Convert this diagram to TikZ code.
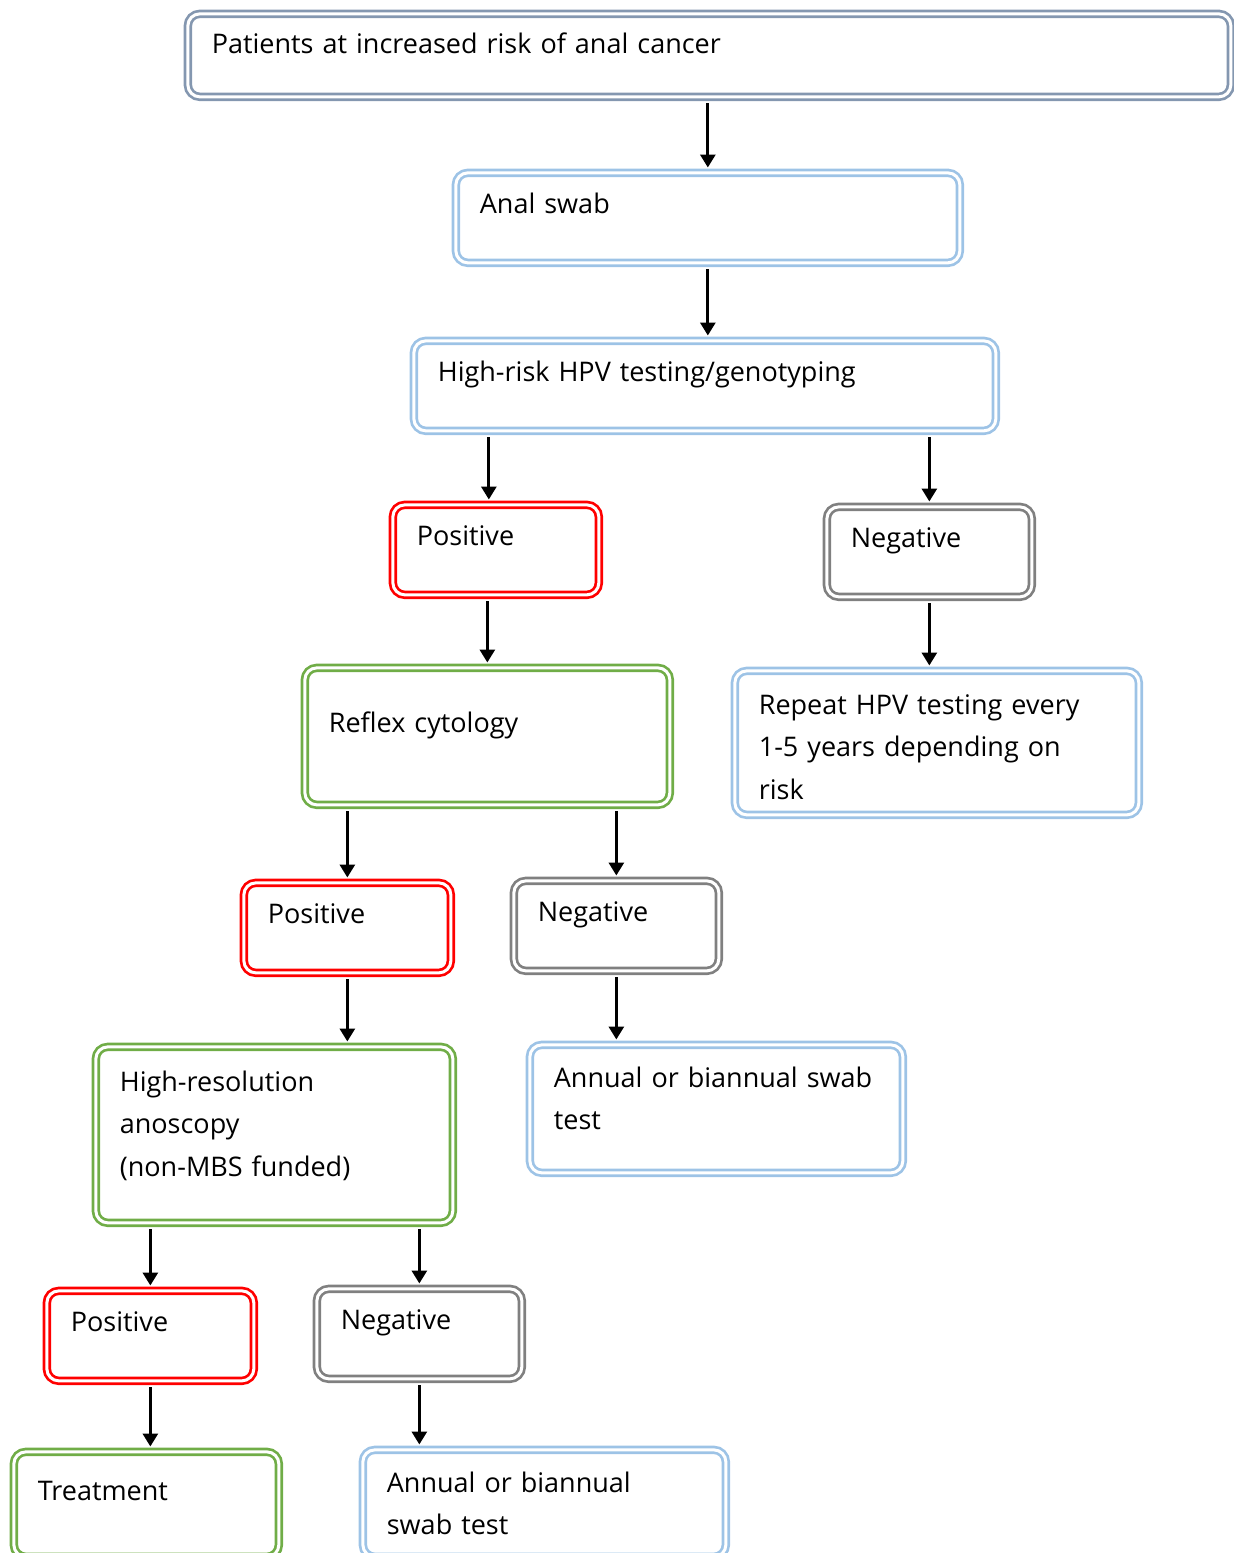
\documentclass[tikz,border=0pt]{standalone}
\usepackage{fontspec}
\setmainfont{Open Sans}
\usepackage{xcolor}
\usepackage{tikz}
\usetikzlibrary{arrows.meta}

\definecolor{topblue}{RGB}{132,151,176}
\definecolor{boxblue}{RGB}{157,195,230}
\definecolor{boxgreen}{RGB}{112,173,71}
\definecolor{boxgray}{RGB}{128,128,128}

\begin{document}
\begin{tikzpicture}[x=1pt, y=-1pt, >={Triangle[length=13pt, width=15pt]},
    card/.style={draw=#1, double, double distance=3pt, line width=2.7pt,
        rounded corners=12pt, anchor=north west, align=left,
        inner xsep=24pt, inner ysep=0pt, text height=40.5pt, text depth=49.5pt,
        font=\fontsize{27}{42.5}\selectfont},
    link/.style={->, line width=3pt, shorten <=5pt, shorten >=4pt}]
    \useasboundingbox (0,0) rectangle (1234,1553);

    % 1. Các hộp
    \node[card=topblue, text width=995pt, text height=39.5pt, text depth=43.5pt] (patients) at (186.5,12.5) {Patients at increased risk of anal cancer};
    \node[card=boxblue, text width=456pt] (swab) at (454.5,171.5) {Anal swab};
    \node[card=boxblue, text width=534pt] (hpv) at (412.5,339.5) {High-risk HPV testing/genotyping};
    \node[card=red, text width=158pt] (pos1) at (391.5,503.5) {Positive};
    \node[card=boxgray, text width=157pt] (neg1) at (825.5,505.5) {Negative};
    \node[card=boxgreen, text width=317pt, text height=64.5pt, text depth=72.5pt] (reflex) at (303.5,666.5) {Reflex cytology};
    \node[card=boxblue, text width=356pt, text height=43.5pt, text depth=100.5pt] (retest) at (733.5,669.5) {Repeat HPV testing every\\1-5 years depending on\\risk};
    \node[card=red, text width=159pt] (pos2) at (242.5,881.5) {Positive};
    \node[card=boxgray, text width=157pt] (neg2) at (512.5,879.5) {Negative};
    \node[card=boxgreen, text width=309pt, text height=44.5pt, text depth=131.5pt] (hra) at (94.5,1045.5) {High-resolution\\anoscopy\\(non-MBS funded)};
    \node[card=boxblue, text width=325pt, text height=42.5pt, text depth=85.5pt] (annual1) at (528.5,1043.5) {Annual or biannual~swab\\test};
    \node[card=red, text width=159pt] (pos3) at (45.5,1289.5) {Positive};
    \node[card=boxgray, text width=157pt] (neg3) at (315.5,1287.5) {Negative};
    \node[card=boxgreen, text width=217pt, text height=48.5pt, text depth=56.5pt] (treat) at (12.5,1450.5) {Treatment};
    \node[card=boxblue, text width=315pt, text height=42.5pt, text depth=64.5pt] (annual2) at (361.5,1448.5) {Annual or biannual\\swab test};

    % 2. Các mũi tên
    \draw[link] (patients.south -| swab.north) -- (swab.north);
    \draw[link] (swab.south) -- (swab.south |- hpv.north);
    \draw[link] ([xshift=-7pt]pos1.north |- hpv.south) -- ([xshift=-7pt]pos1.north);
    \draw[link] (hpv.south -| neg1.north) -- (neg1.north);
    \draw[link] (pos1.south -| reflex.north) -- (reflex.north);
    \draw[link] (neg1.south) -- (neg1.south |- retest.north);
    \draw[link] (reflex.south -| pos2.north) -- (pos2.north);
    \draw[link] (reflex.south -| neg2.north) -- (neg2.north);
    \draw[link] (pos2.south) -- (pos2.south |- hra.north);
    \draw[link] (neg2.south) -- (neg2.south |- annual1.north);
    \draw[link] (hra.south -| pos3.north) -- (pos3.north);
    \draw[link] (hra.south -| neg3.north) -- (neg3.north);
    \draw[link] (pos3.south) -- (pos3.south |- treat.north);
    \draw[link] (neg3.south) -- (neg3.south |- annual2.north);

\end{tikzpicture}
\end{document}
